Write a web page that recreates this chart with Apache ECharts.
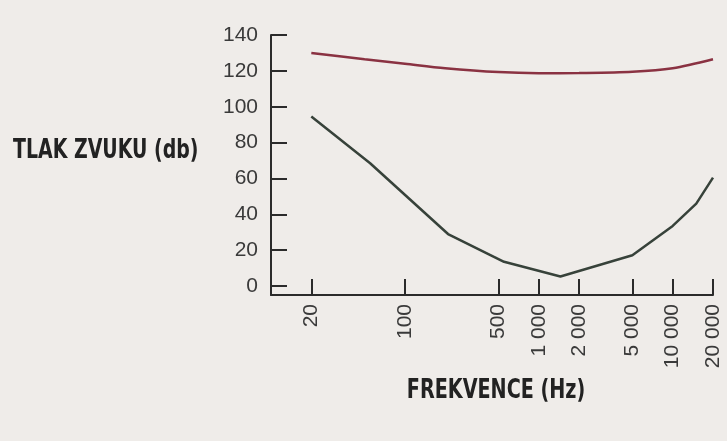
<!DOCTYPE html>
<html>
<head>
<meta charset="utf-8">
<script src="https://cdn.jsdelivr.net/npm/echarts@6/dist/echarts.min.js"></script>
<style>
html,body{margin:0;padding:0;background:#efece9;}
#chart{width:727px;height:441px;}
</style>
</head>
<body>
<div id="chart"></div>
<script>
// Data
const xTickValues = [20, 100, 500, 1000, 2000, 5000, 10000, 20000];
const xTickLabels = ['20', '100', '500', '1 000', '2 000', '5 000', '10 000', '20 000'];
const yTickValues = [0, 20, 40, 60, 80, 100, 120, 140];

// Upper curve (pain threshold)
const freqUpper = [20, 50, 100, 200, 500, 1000, 2000, 5000, 10000, 20000];
const dbUpper   = [130, 126.5, 124, 121.5, 119.3, 118.7, 118.8, 119.5, 121.5, 126.5];

// Lower curve (hearing threshold)
const freqLower = [20, 55, 210, 550, 1450, 5000, 10000, 15000, 20000];
const dbLower   = [94.5, 68.5, 29, 13.5, 5.3, 17.2, 33.5, 46, 60.5];

const xName = 'FREKVENCE (Hz)';
const yName = 'TLAK ZVUKU (db)';

const pairs = (xs, ys) => xs.map((x, i) => [x, ys[i]]);

const axisColor = '#2b2b2b';
const labelFont = "'Liberation Sans', Arial, sans-serif";
const titleFont = "bold 26px 'DejaVu Sans Condensed', 'Liberation Sans', sans-serif";

const chart = echarts.init(document.getElementById('chart'), null, {renderer: 'canvas'});
chart.setOption({
  backgroundColor: '#efece9',
  animation: false,
  graphic: [
    {
      type: 'text', x: 13, y: 151, scaleX: 0.81,
      style: {text: yName, font: titleFont, fill: '#222', align: 'left', verticalAlign: 'middle'}
    },
    {
      type: 'text', x: 496, y: 391, scaleX: 0.82,
      style: {text: xName, font: titleFont, fill: '#222', align: 'center', verticalAlign: 'middle'}
    }
  ],
  grid: {left: 271, right: 14, top: 35, bottom: 146, containLabel: false},
  xAxis: {
    type: 'log',
    logBase: 10,
    min: 10,
    max: 20000,
    axisLine: {show: true, onZero: false, lineStyle: {color: axisColor, width: 2}},
    axisTick: {show: true, inside: true, length: 16, lineStyle: {color: axisColor, width: 2}, customValues: xTickValues},
    axisLabel: {
      customValues: xTickValues,
      rotate: 90,
      margin: 9,
      fontFamily: labelFont,
      fontSize: 21,
      color: '#3a3a3a',
      formatter: v => {
        const i = xTickValues.indexOf(Math.round(v));
        return i >= 0 ? xTickLabels[i] : '';
      }
    },
    splitLine: {show: false},
    minorTick: {show: false}
  },
  yAxis: {
    type: 'value',
    min: -5,
    max: 140,
    axisLine: {show: true, onZero: false, lineStyle: {color: axisColor, width: 2}},
    axisTick: {show: true, inside: true, length: 16, lineStyle: {color: axisColor, width: 2}, customValues: yTickValues},
    axisLabel: {
      customValues: yTickValues,
      margin: 13,
      fontFamily: labelFont,
      fontSize: 21,
      color: '#3a3a3a'
    },
    splitLine: {show: false}
  },
  series: [
    {
      type: 'line',
      data: pairs(freqUpper, dbUpper),
      showSymbol: false,
      smooth: 0.3,
      lineStyle: {color: '#8a3242', width: 2.5},
      z: 3
    },
    {
      type: 'line',
      data: pairs(freqLower, dbLower),
      showSymbol: false,
      smooth: false,
      lineStyle: {color: '#37423a', width: 2.5},
      z: 3
    }
  ]
});
</script>
</body>
</html>
